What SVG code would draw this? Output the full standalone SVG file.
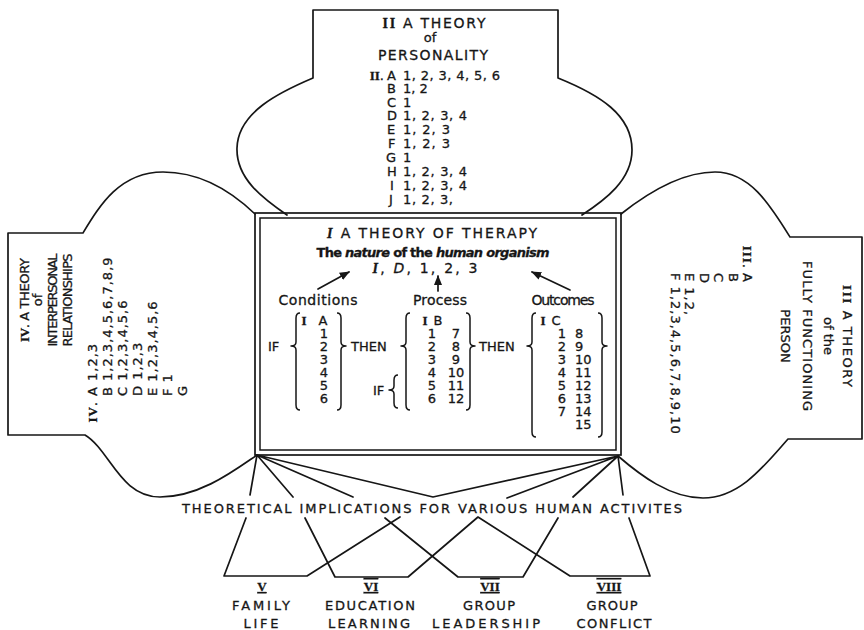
<svg xmlns="http://www.w3.org/2000/svg" width="864" height="630" viewBox="0 0 864 630">
<style>
text{font-family:"DejaVu Sans","Liberation Sans",sans-serif;fill:#161616;stroke:#161616;stroke-width:0.3;}
.t{font-size:14px;}
.s{font-size:13px;}
.x{font-size:13px;}
.m{text-anchor:middle;}
.e{text-anchor:end;}
.ls{letter-spacing:1px;}
.rn{font-family:"Liberation Serif","DejaVu Serif",serif;font-weight:bold;}
.it{font-style:italic;}
.ln{fill:none;stroke:#161616;stroke-width:1.7;stroke-linejoin:round;stroke-linecap:round;}
.br{fill:none;stroke:#161616;stroke-width:1.5;stroke-linejoin:round;}
.ud{text-decoration:underline;}
.uo{text-decoration:underline overline;}
</style>
<defs>
<marker id="ah" viewBox="0 0 10 10" refX="9" refY="5" markerWidth="6" markerHeight="6" orient="auto"><path d="M0,1 L10,5 L0,9 Z" fill="#161616"/></marker>
</defs>
<rect width="864" height="630" fill="#fff"/>

<g id="theory-personality">
<path class="ln" d="M287,215 C262,198 236,178 237,148 C238,112 280,92 313,78 L313,10 L558,10 L558,78 C600,95 632,115 632,150 C632,180 605,200 582,215"/>
<text class="t m" x="434" y="28" textLength="103"><tspan class="rn">II</tspan> A THEORY</text>
<text class="s m" x="430" y="42">of</text>
<text class="t m" x="433" y="60" textLength="110">PERSONALITY</text>
<text class="s e" x="384" y="80"><tspan class="rn">II</tspan>.</text>
<g class="s">
<text x="387" y="80">A</text><text x="403" y="80" textLength="97">1, 2, 3, 4, 5, 6</text>
<text x="387" y="93">B</text><text x="403" y="93">1, 2</text>
<text x="387" y="107">C</text><text x="403" y="107">1</text>
<text x="387" y="120">D</text><text x="403" y="120" textLength="64">1, 2, 3, 4</text>
<text x="387" y="134">E</text><text x="403" y="134" textLength="47">1, 2, 3</text>
<text x="388" y="148">F</text><text x="403" y="148" textLength="47">1, 2, 3</text>
<text x="386" y="162">G</text><text x="403" y="162">1</text>
<text x="387" y="176">H</text><text x="403" y="176" textLength="64">1, 2, 3, 4</text>
<text x="390" y="190">I</text><text x="403" y="190" textLength="64">1, 2, 3, 4</text>
<text x="389" y="204">J</text><text x="403" y="204" textLength="50">1, 2, 3,</text>
</g>
</g>

<g id="theory-therapy">
<rect x="255" y="213" width="366" height="242" fill="none" stroke="#161616" stroke-width="1.7"/>
<rect x="260" y="218" width="356" height="232" fill="none" stroke="#161616" stroke-width="1.5"/>
<text class="t m" x="432" y="238" textLength="210"><tspan class="rn it">I</tspan>  A THEORY OF THERAPY</text>
<text class="s m" x="433" y="257" font-weight="bold" textLength="233">The <tspan class="it">nature</tspan> of the <tspan class="it">human organism</tspan></text>
<text class="t m" x="425" y="273" textLength="105"><tspan class="rn it">I</tspan>, <tspan class="it">D</tspan>, 1, 2, 3</text>
<line class="ln" x1="318" y1="289" x2="349" y2="272" marker-end="url(#ah)"/>
<line class="ln" x1="438" y1="291" x2="438" y2="276" marker-end="url(#ah)"/>
<line class="ln" x1="570" y1="290" x2="532" y2="272" marker-end="url(#ah)"/>
<text class="t m" x="318" y="305" textLength="79">Conditions</text>
<text class="t m" x="440" y="305" textLength="54">Process</text>
<text class="t m" x="563" y="305" textLength="63">Outcomes</text>

<path class="br" d="M300,313 Q296,313 296,318 L296,342 Q296,346 291,346 Q296,346 296,350 L296,405 Q296,410 300,410"/>
<path class="br" d="M337,313 Q341,313 341,318 L341,342 Q341,346 346,346 Q341,346 341,350 L341,405 Q341,410 337,410"/>
<path class="br" d="M410,313 Q406,313 406,318 L406,342 Q406,346 401,346 Q406,346 406,350 L406,405 Q406,410 410,410"/>
<path class="br" d="M466,313 Q470,313 470,318 L470,342 Q470,346 475,346 Q470,346 470,350 L470,405 Q470,410 466,410"/>
<path class="br" d="M398,375 Q394,375 394,380 L394,386 Q394,390 389,390 Q394,390 394,394 L394,403 Q394,408 398,408"/>
<path class="br" d="M536,313 Q532,313 532,318 L532,342 Q532,346 527,346 Q532,346 532,350 L532,432 Q532,437 536,437"/>
<path class="br" d="M598,313 Q602,313 602,318 L602,342 Q602,346 607,346 Q602,346 602,350 L602,432 Q602,437 598,437"/>

<g class="s">
<text x="268" y="351">IF</text>
<text x="351" y="351">THEN</text>
<text x="479" y="351">THEN</text>
<text x="373" y="395">IF</text>
</g>
<g class="s m">
<text class="rn" x="304" y="325">I</text><text x="323" y="325">A</text>
<text x="324" y="338">1</text><text x="324" y="351">2</text><text x="324" y="364">3</text><text x="324" y="377">4</text><text x="324" y="390">5</text><text x="324" y="403">6</text>
<text class="rn" x="425" y="325">I</text><text x="438" y="325">B</text>
<text x="432" y="338">1</text><text x="432" y="351">2</text><text x="432" y="364">3</text><text x="432" y="377">4</text><text x="432" y="390">5</text><text x="432" y="403">6</text>
<text x="456" y="338">7</text><text x="456" y="351">8</text><text x="456" y="364">9</text><text x="456" y="377">10</text><text x="456" y="390">11</text><text x="456" y="403">12</text>
<text class="rn" x="543" y="325">I</text><text x="556" y="325">C</text>
<text x="562" y="338">1</text><text x="562" y="351">2</text><text x="562" y="364">3</text><text x="562" y="377">4</text><text x="562" y="390">5</text><text x="562" y="403">6</text><text x="562" y="416">7</text>
</g>
<g class="s">
<text x="575" y="338">8</text><text x="575" y="351">9</text><text x="575" y="364">10</text><text x="575" y="377">11</text><text x="575" y="390">12</text><text x="575" y="403">13</text><text x="575" y="416">14</text><text x="575" y="429">15</text>
</g>
</g>

<g id="theory-interpersonal">
<path class="ln" d="M255,214 C230,190 200,172 163,172 C120,172 100,205 83,233 L8,233 L8,435 L85,435 C110,450 120,497 160,497 C200,497 235,470 257,455"/>
<g class="s m">
<text transform="translate(29,300) rotate(-90)" textLength="84"><tspan class="rn">IV</tspan>. A THEORY</text>
<text transform="translate(42,300) rotate(-90)">of</text>
<text transform="translate(57,300) rotate(-90)" textLength="93">INTERPERSONAL</text>
<text transform="translate(72,300) rotate(-90)" textLength="93">RELATIONSHIPS</text>
</g>
<g class="s ls">
<text class="e" transform="translate(97,401) rotate(-90)"><tspan class="rn">IV</tspan>.</text>
<text transform="translate(97,396) rotate(-90)">A 1,2,3</text>
<text transform="translate(112,396) rotate(-90)">B 1,2,3,4,5,6,7,8,9</text>
<text transform="translate(127,396) rotate(-90)">C 1,2,3,4,5,6</text>
<text transform="translate(142,396) rotate(-90)">D 1,2,3</text>
<text transform="translate(157,396) rotate(-90)">E 1,2,3,4,5,6</text>
<text transform="translate(172,396) rotate(-90)">F 1</text>
<text transform="translate(187,396) rotate(-90)">G</text>
</g>
</g>

<g id="theory-fully-functioning">
<path class="ln" d="M621,214 C645,195 680,172 715,172 C750,172 770,205 790,237 L862,237 L862,439 L788,439 C765,465 740,498 703,498 C670,498 640,475 618,456"/>
<g class="s m">
<text transform="translate(843,336) rotate(90)" textLength="102"><tspan class="rn">III</tspan> A THEORY</text>
<text transform="translate(824,336) rotate(90)">of the</text>
<text transform="translate(803,336) rotate(90)" textLength="150">FULLY FUNCTIONING</text>
<text transform="translate(781,336) rotate(90)">PERSON</text>
</g>
<g class="s ls">
<text class="e" transform="translate(743,269) rotate(90)"><tspan class="rn">III</tspan>.</text>
<text transform="translate(743,273) rotate(90)">A</text>
<text transform="translate(729,273) rotate(90)">B</text>
<text transform="translate(714,273) rotate(90)">C</text>
<text transform="translate(700,273) rotate(90)">D</text>
<text transform="translate(685,273) rotate(90)">E 1,2,</text>
<text transform="translate(671,273) rotate(90)">F 1,2,3,4,5,6,7,8,9,10</text>
</g>
</g>

<g id="connectors">
<path class="ln" d="M257,455 L250,495 M257,455 L293,497 M257,455 L353,497 M257,455 L433,497 L618,456 M618,456 L507,498 M618,456 L573,497 M618,456 L623,495"/>
<path class="ln" d="M246,518 L224,576 L307,576 L400,517"/>
<path class="ln" d="M305,518 L335,577 L408,577 L478,517 L570,576 L650,576 L629,518"/>
<path class="ln" d="M385,518 L458,577 L523,577 L558,518"/>
</g>

<text id="implications" class="x" x="182" y="513" textLength="500">THEORETICAL IMPLICATIONS FOR VARIOUS HUMAN ACTIVITES</text>

<g id="family-life" class="x m">
<text class="rn ud" x="262" y="591">V</text>
<text x="261" y="610" textLength="58">FAMILY</text>
<text x="261" y="628" textLength="35">LIFE</text>
</g>
<g id="education-learning" class="x m">
<text class="rn uo" x="371" y="591">VI</text>
<text x="370" y="610" textLength="90">EDUCATION</text>
<text x="369" y="628" textLength="82">LEARNING</text>
</g>
<g id="group-leadership" class="x m">
<text class="rn uo" x="490" y="591">VII</text>
<text x="489" y="610" textLength="52">GROUP</text>
<text x="486" y="628" textLength="108">LEADERSHIP</text>
</g>
<g id="group-conflict" class="x m">
<text class="rn uo" x="609" y="591">VIII</text>
<text x="612" y="610" textLength="51">GROUP</text>
<text x="614" y="628" textLength="75">CONFLICT</text>
</g>
</svg>
